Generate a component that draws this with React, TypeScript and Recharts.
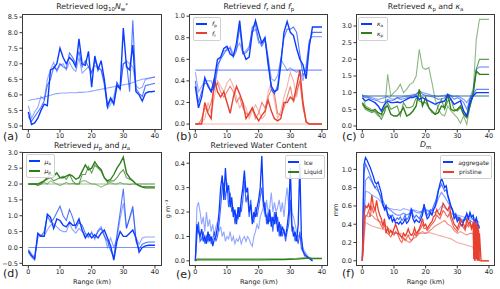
import React from "react";
import { LineChart, Line, XAxis, YAxis } from "recharts";

// colours
const BLUE = "#0a3cff";
const RED = "#e8402e";
const GREEN = "#2f7d1c";
const FONT = "'DejaVu Sans', sans-serif";

// range axis (km)
const km1 = [0, 1, 2, 3, 4, 5, 6, 7, 8, 9, 10, 11, 12, 13, 14, 15, 16, 17, 18, 19, 20,
  21, 22, 23, 24, 25, 26, 27, 28, 29, 30, 31, 32, 33, 34, 35, 36, 37, 38, 39, 40];
const kmHalf = Array.from({ length: 75 }, (_, i) => i / 2); // 0 .. 37 km
const kmEnds = [0, 40];
const xTicks = [0, 10, 20, 30, 40];

// (a) log10 Nw*
const aDark = [5.45, 5.05, 5.1, 5.25, 5.5, 5.7, 5.65, 6.8, 6.85, 7.0,
  7.5, 7.2, 7.0, 7.2, 7.1, 6.9, 7.8, 7.0, 6.95, 7.4,
  6.25, 7.25, 6.8, 7.1, 6.5, 5.65, 5.9, 5.7, 6.3, 6.2,
  8.15, 6.9, 6.8, 7.6, 6.1, 6.0, 5.8, 6.05, 6.1, 6.1, 6.12];
const aMid = [5.3, 5.15, 5.3, 5.45, 5.6, 5.8, 6.3, 6.5, 6.9, 6.8,
  7.0, 6.9, 6.85, 7.35, 7.2, 7.0, 7.4, 6.9, 7.1, 6.9,
  6.7, 7.1, 6.9, 6.8, 6.4, 5.6, 5.85, 5.75, 6.4, 6.2,
  7.0, 7.05, 6.1, 8.4, 6.2, 6.05, 5.95, 6.3, 6.32, 6.35, 6.37];
const aLight = [5.65, 5.25, 5.45, 5.6, 5.95, 5.85, 6.5, 6.8, 7.05, 6.75,
  6.95, 7.0, 6.8, 7.05, 6.85, 6.75, 7.2, 6.7, 6.8, 6.9,
  6.75, 6.95, 6.85, 6.8, 6.3, 5.55, 5.7, 5.95, 6.4, 6.15,
  7.0, 7.1, 7.0, 6.9, 6.3, 6.2, 6.25, 6.5, 6.52, 6.55, 6.57];
const aPrior = [5.82, 5.84, 5.86, 5.88, 5.9, 5.93, 5.96, 5.99, 6.02, 6.04,
  6.05, 6.06, 6.06, 6.07, 6.07, 6.07, 6.08, 6.08, 6.09, 6.1,
  6.12, 6.14, 6.16, 6.18, 6.2, 6.22, 6.24, 6.26, 6.28, 6.3,
  6.32, 6.34, 6.36, 6.4, 6.44, 6.47, 6.5, 6.52, 6.54, 6.56, 6.58];

// (b) fr and fp
const bFp1 = [0.35, 0.15, 0.25, 0.43, 0.35, 0.3, 0.42, 0.6, 0.62, 0.7,
  0.72, 0.65, 0.63, 0.75, 0.96, 0.68, 0.6, 0.62, 0.85, 0.96,
  0.85, 0.75, 0.8, 0.55, 0.35, 0.3, 0.32, 0.55, 0.85, 0.95,
  0.85, 0.82, 0.7, 0.6, 0.55, 0.42, 0.72, 0.9, 0.9, 0.9, 0.9];
const bFp2 = [0.4, 0.2, 0.3, 0.38, 0.37, 0.3, 0.35, 0.55, 0.6, 0.65,
  0.7, 0.7, 0.62, 0.68, 0.9, 0.65, 0.66, 0.7, 0.9, 0.92,
  0.78, 0.72, 0.78, 0.6, 0.32, 0.28, 0.36, 0.6, 0.8, 0.88,
  0.88, 0.9, 0.85, 0.65, 0.45, 0.5, 0.75, 0.85, 0.85, 0.85, 0.85];
const bFp3 = [0.48, 0.3, 0.35, 0.4, 0.4, 0.4, 0.32, 0.5, 0.62, 0.68,
  0.68, 0.72, 0.65, 0.7, 0.75, 0.66, 0.68, 0.72, 0.85, 0.88,
  0.75, 0.76, 0.8, 0.62, 0.42, 0.4, 0.45, 0.6, 0.55, 0.5,
  0.52, 0.5, 0.48, 0.5, 0.4, 0.55, 0.78, 0.81, 0.81, 0.81, 0.81];
const bFpPrior = [0.5, 0.5];
const bFr1 = [0, 0, 0, 0.2, 0.1, 0.05, 0.42, 0.3, 0.25, 0.3,
  0.2, 0.1, 0.25, 0.35, 0.28, 0.2, 0.05, 0.1, 0.15, 0.08,
  0.03, 0.08, 0.12, 0.22, 0.12, 0.05, 0.03, 0.05, 0.2, 0.2,
  0.25, 0.22, 0.35, 0.5, 0.2, 0.02, 0, 0, 0, 0, 0];
const bFr2 = [0, 0, 0.05, 0.15, 0.12, 0.2, 0.35, 0.38, 0.3, 0.25,
  0.3, 0.35, 0.3, 0.2, 0.25, 0.15, 0.1, 0.08, 0.15, 0.05,
  0.1, 0.2, 0.15, 0.25, 0.32, 0.28, 0.1, 0.08, 0.15, 0.25,
  0.35, 0.2, 0.3, 0.4, 0.15, 0.02, 0, 0, 0, 0, 0];
const bFr3 = [0, 0, 0.02, 0.05, 0.2, 0.1, 0.25, 0.4, 0.35, 0.3,
  0.38, 0.42, 0.35, 0.25, 0.15, 0.2, 0.15, 0.05, 0.12, 0.18,
  0.12, 0.05, 0.08, 0.3, 0.38, 0.22, 0.05, 0.12, 0.25, 0.35,
  0.48, 0.4, 0.25, 0.42, 0.2, 0.02, 0, 0, 0, 0, 0];
const bFrPrior = [0, 0];

// (c) kappa_p and kappa_a
const cKa1 = [0.85, 0.75, 0.8, 0.75, 0.7, 0.6, 0.45, 0.65, 0.75, 0.7,
  0.7, 0.72, 0.7, 0.75, 0.8, 0.85, 0.85, 0.9, 0.8, 0.85,
  0.8, 0.75, 0.7, 0.65, 0.7, 0.72, 0.75, 0.95, 0.8, 0.65,
  0.7, 0.75, 0.45, 0.3, 0.7, 0.9, 1.0, 1.0, 1.0, 1.0, 1.0];
const cKa2 = [0.9, 0.85, 0.85, 0.8, 0.78, 0.75, 0.7, 0.72, 0.8, 0.75,
  0.78, 0.85, 0.8, 0.82, 0.85, 0.88, 0.9, 0.95, 1.05, 0.95,
  0.92, 0.9, 0.88, 0.85, 0.8, 0.82, 0.85, 0.95, 0.9, 0.8,
  0.85, 0.8, 0.7, 0.5, 0.8, 0.95, 1.1, 1.1, 1.1, 1.1, 1.1];
const cKa3 = [0.92, 0.9, 0.88, 0.85, 0.82, 0.8, 0.82, 0.85, 0.88, 0.82,
  0.8, 0.85, 0.85, 0.88, 0.9, 0.92, 0.95, 0.95, 1.05, 1.0,
  0.98, 0.95, 0.92, 0.9, 0.88, 0.9, 0.92, 0.95, 0.92, 0.88,
  0.9, 0.85, 0.8, 0.7, 0.85, 1.1, 1.7, 1.77, 1.77, 1.77, 1.77];
const cKp1 = [0.7, 0.55, 0.5, 0.45, 0.5, 0.4, 0.35, 0.55, 0.6, 0.35,
  0.3, 0.3, 0.4, 0.55, 0.3, 0.35, 0.45, 0.6, 1.1, 0.6,
  0.85, 0.55, 0.45, 0.35, 0.4, 0.6, 0.55, 0.95, 0.5, 0.45,
  0.5, 0.6, 0.35, 0.25, 0.6, 0.95, 1.65, 1.55, 1.55, 1.55, 1.55];
const cKp2 = [0.65, 0.5, 0.45, 0.4, 0.45, 0.35, 0.2, 0.4, 0.7, 0.5,
  0.55, 0.6, 0.3, 0.7, 0.55, 0.55, 0.6, 0.85, 0.75, 0.7,
  0.7, 0.55, 0.4, 0.35, 0.6, 0.8, 0.5, 0.75, 0.8, 0.5,
  0.45, 0.55, 0.35, 0.3, 0.8, 1.0, 1.7, 2.0, 2.0, 2.0, 2.0];
const cKp3 = [0.95, 0.6, 0.55, 0.5, 0.4, 0.3, 0.3, 0.4, 1.55, 0.9,
  1.0, 1.1, 1.25, 1.0, 1.1, 1.25, 1.3, 1.5, 2.3, 1.75,
  1.7, 1.75, 1.3, 0.8, 0.5, 0.35, 0.3, 0.6, 0.45, 0.35,
  0.25, 0.08, 0.3, 0.05, 0.6, 1.0, 2.6, 3.2, 3.2, 3.2, 3.2];
const cPrior = [0.9, 0.9];

// (d) mu_p and mu_a
const dMa1 = [-0.1, -0.25, -0.35, 0.45, 0.35, 0.35, 1.05, 0.95, 0.6, 0.9,
  0.85, 0.7, 0.65, 0.8, 0.7, 0.7, 0.9, 0.55, 0.3, 0.45,
  0.3, 0.4, 0.3, 0.45, 0.55, 0.3, 0.05, -0.4, 0.2, 0.5,
  0.35, 0.35, 0.45, 0.55, 0.3, -0.15, 0.0, 0.05, 0.07, 0.07, 0.07];
const dMa2 = [-0.15, -0.3, -0.4, 0.4, 0.35, 0.5, 1.0, 0.8, 0.9, 1.1,
  1.3, 1.0, 0.85, 1.2, 0.95, 0.6, 0.8, 0.7, 0.45, 0.35,
  0.45, 0.3, 0.5, 0.6, 0.35, 0.2, -0.1, -0.3, 0.4, 1.1,
  1.85, 0.6, 0.95, 1.3, 0.2, -0.05, 0.1, 0.15, 0.17, 0.17, 0.17];
const dMa3 = [-0.05, -0.2, -0.3, 0.3, 0.4, 0.35, 0.55, 0.7, 0.75, 0.65,
  0.55, 0.5, 0.5, 0.75, 0.55, 0.45, 0.6, 0.5, 0.4, 0.3,
  0.5, 0.25, 0.55, 0.65, 0.4, 0.0, 0.3, 0.0, 0.3, 0.9,
  1.4, 0.6, 0.9, 1.2, 0.3, 0.1, 0.3, 0.33, 0.33, 0.33, 0.33];
const dMp1 = [2.0, 2.0, 2.0, 2.0, 2.05, 2.1, 2.2, 2.3, 2.25, 2.35,
  2.2, 2.2, 2.25, 2.3, 2.25, 2.15, 2.2, 2.4, 2.6, 2.45,
  2.5, 2.7, 2.55, 2.45, 2.2, 2.1, 2.15, 2.3, 2.5, 2.65,
  2.85, 2.35, 2.2, 2.1, 2.0, 1.95, 1.9, 1.88, 1.88, 1.88, 1.88];
const dMp2 = [2.0, 2.0, 2.0, 1.95, 2.0, 2.1, 2.15, 2.2, 2.1, 2.15,
  2.2, 2.25, 2.15, 2.3, 2.1, 2.0, 2.0, 2.3, 2.3, 2.55,
  2.35, 2.6, 2.5, 2.4, 2.2, 2.05, 2.1, 2.1, 2.2, 2.35,
  2.45, 2.2, 2.15, 2.1, 2.0, 1.95, 1.92, 1.92, 1.92, 1.92, 1.92];
const dMp3 = [2.0, 2.0, 1.98, 2.0, 2.0, 2.05, 2.0, 2.1, 2.05, 2.0,
  1.95, 2.0, 2.05, 2.0, 2.02, 2.0, 2.0, 2.1, 2.1, 2.05,
  2.0, 2.0, 1.95, 1.9, 1.95, 2.0, 2.05, 2.0, 2.0, 2.05,
  2.0, 2.0, 1.98, 2.0, 2.0, 2.0, 2.0, 2.0, 2.0, 2.0, 2.0];
const dMpPrior = [2.0, 2.0];
const dMaPrior = [0.0, 0.0];

// (e) water content, g m-3 (0 .. 37 km every 0.5 km)
const eIce1 = [0, 0.15, 0.12, 0.1, 0.13, 0.08, 0.1, 0.07, 0.12, 0.08,
  0.1, 0.06, 0.09, 0.1, 0.14, 0.2, 0.3, 0.35, 0.25, 0.38,
  0.28, 0.31, 0.22, 0.26, 0.18, 0.21, 0.15, 0.22, 0.18, 0.25,
  0.3, 0.37, 0.28, 0.3, 0.2, 0.23, 0.15, 0.2, 0.18, 0.22,
  0.25, 0.3, 0.43, 0.25, 0.2, 0.18, 0.15, 0.21, 0.14, 0.18,
  0.15, 0.2, 0.12, 0.16, 0.1, 0.14, 0.12, 0.1, 0.14, 0.2,
  0.38, 0.15, 0.1, 0.12, 0.08, 0.15, 0.4, 0.1, 0.04, 0.03,
  0.02, 0.015, 0.01, 0.005, 0.0];
const eIce2 = [0, 0.1, 0.16, 0.08, 0.09, 0.12, 0.07, 0.1, 0.08, 0.11,
  0.07, 0.09, 0.12, 0.08, 0.1, 0.15, 0.22, 0.3, 0.32, 0.25,
  0.32, 0.22, 0.28, 0.2, 0.22, 0.15, 0.19, 0.17, 0.22, 0.2,
  0.25, 0.33, 0.24, 0.27, 0.18, 0.25, 0.17, 0.16, 0.22, 0.18,
  0.22, 0.26, 0.3, 0.22, 0.24, 0.15, 0.2, 0.16, 0.18, 0.12,
  0.2, 0.15, 0.18, 0.1, 0.15, 0.1, 0.13, 0.08, 0.12, 0.15,
  0.25, 0.12, 0.14, 0.08, 0.1, 0.07, 0.12, 0.05, 0.04, 0.02,
  0.02, 0.015, 0.01, 0.005, 0];
const eIce3 = [0, 0.22, 0.24, 0.2, 0.15, 0.18, 0.12, 0.2, 0.14, 0.17,
  0.12, 0.15, 0.1, 0.14, 0.16, 0.12, 0.14, 0.1, 0.12, 0.08,
  0.1, 0.09, 0.12, 0.08, 0.1, 0.07, 0.09, 0.08, 0.1, 0.07,
  0.09, 0.1, 0.08, 0.1, 0.09, 0.07, 0.06, 0.1, 0.12, 0.15,
  0.13, 0.18, 0.2, 0.22, 0.18, 0.25, 0.2, 0.22, 0.28, 0.2,
  0.24, 0.2, 0.22, 0.25, 0.2, 0.24, 0.18, 0.25, 0.3, 0.22,
  0.35, 0.2, 0.18, 0.15, 0.12, 0.1, 0.1, 0.08, 0.05, 0.04,
  0.03, 0.02, 0.015, 0.01, 0.005];
const eLiqKm = [0, 0.5, 5, 10, 15, 20, 25, 28, 30, 32, 34, 35, 36, 37, 38, 40];
const eLiq1 = [0, 0.004, 0.004, 0.004, 0.004, 0.004, 0.005, 0.005, 0.006, 0.007, 0.009, 0.01, 0.01, 0.009, 0.009, 0.009];
const eLiq2 = [0, 0.008, 0.008, 0.008, 0.008, 0.008, 0.008, 0.009, 0.01, 0.011, 0.013, 0.014, 0.013, 0.012, 0.012, 0.012];

// (f) Dm, mm
const fAg1 = [0, 1.05, 1.13, 1.1, 1.06, 1.02, 0.97, 0.92, 0.86, 0.84,
  0.86, 0.8, 0.74, 0.62, 0.56, 0.6, 0.5, 0.46, 0.49, 0.43,
  0.46, 0.41, 0.42, 0.4, 0.43, 0.4, 0.42, 0.46, 0.41, 0.43,
  0.47, 0.56, 0.46, 0.42, 0.45, 0.43, 0.42, 0.46, 0.5, 0.62,
  0.52, 0.46, 0.48, 0.53, 0.5, 0.56, 0.6, 0.66, 0.76, 0.84,
  0.9, 0.86, 0.8, 0.82, 0.72, 0.66, 0.6, 0.56, 0.46, 0.49,
  0.43, 0.46, 0.4, 0.38, 0.43, 0.46, 0.52, 0.46, 0.53, 0.48,
  0.5, 0.42, 0.47, 0.4, 0.36];
const fAg2 = [0, 0.95, 1.06, 1.02, 0.98, 0.93, 0.88, 0.84, 0.8, 0.82,
  0.78, 0.72, 0.66, 0.6, 0.58, 0.55, 0.52, 0.5, 0.48, 0.5,
  0.46, 0.44, 0.47, 0.45, 0.48, 0.44, 0.46, 0.5, 0.45, 0.47,
  0.52, 0.58, 0.5, 0.47, 0.5, 0.48, 0.46, 0.5, 0.55, 0.6,
  0.56, 0.5, 0.52, 0.56, 0.55, 0.6, 0.64, 0.7, 0.78, 0.8,
  0.84, 0.8, 0.76, 0.78, 0.7, 0.64, 0.58, 0.55, 0.5, 0.52,
  0.46, 0.48, 0.44, 0.42, 0.45, 0.48, 0.5, 0.46, 0.5, 0.47,
  0.46, 0.4, 0.44, 0.38, 0.35];
const fAg3 = [0, 0.76, 0.75, 0.72, 0.7, 0.68, 0.64, 0.6, 0.58, 0.57,
  0.56, 0.56, 0.55, 0.57, 0.56, 0.55, 0.56, 0.55, 0.54, 0.53,
  0.55, 0.54, 0.52, 0.53, 0.55, 0.6, 0.58, 0.55, 0.52, 0.5,
  0.5, 0.49, 0.48, 0.47, 0.46, 0.45, 0.44, 0.42];
const fAg4 = [0, 0.88, 0.92, 0.86, 0.8, 0.76, 0.7, 0.62, 0.58, 0.55,
  0.52, 0.5, 0.5, 0.52, 0.5, 0.52, 0.55, 0.53, 0.52, 0.55,
  0.56, 0.55, 0.54, 0.58, 0.68, 0.75, 0.7, 0.64, 0.58, 0.52,
  0.48, 0.46, 0.44, 0.46, 0.44, 0.42, 0.4, 0.38];
const fPr1 = [0, 0.5, 0.6, 0.58, 0.62, 0.55, 0.72, 0.6, 0.55, 0.66,
  0.56, 0.5, 0.46, 0.38, 0.46, 0.3, 0.36, 0.3, 0.33, 0.3,
  0.35, 0.4, 0.35, 0.3, 0.28, 0.25, 0.3, 0.27, 0.3, 0.35,
  0.3, 0.28, 0.3, 0.36, 0.3, 0.32, 0.35, 0.4, 0.46, 0.38,
  0.4, 0.35, 0.38, 0.41, 0.43, 0.48, 0.5, 0.56, 0.52, 0.5,
  0.56, 0.63, 0.6, 0.57, 0.55, 0.6, 0.5, 0.45, 0.4, 0.38,
  0.35, 0.4, 0.46, 0.42, 0.4, 0.35, 0.46, 0.4, 0.43, 0.36,
  0.42];
const fPr2 = [0, 0.4, 0.48, 0.5, 0.55, 0.48, 0.6, 0.52, 0.58, 0.5,
  0.45, 0.42, 0.38, 0.35, 0.4, 0.32, 0.3, 0.28, 0.26, 0.3,
  0.28, 0.32, 0.3, 0.26, 0.22, 0.2, 0.25, 0.22, 0.25, 0.28,
  0.24, 0.22, 0.25, 0.3, 0.27, 0.3, 0.33, 0.36, 0.4, 0.35,
  0.36, 0.33, 0.35, 0.38, 0.4, 0.42, 0.45, 0.5, 0.48, 0.46,
  0.5, 0.55, 0.53, 0.5, 0.48, 0.52, 0.45, 0.4, 0.36, 0.34,
  0.32, 0.35, 0.4, 0.38, 0.36, 0.33, 0.4, 0.37, 0.4, 0.34,
  0.38];
const fTailKm = [35.2, 35.4, 35.6, 35.8, 36, 36.2, 36.4, 36.6, 36.8, 37, 37.5, 40];
const fPr1Tail = [0.02, 0.44, 0.0, 0.4, 0.02, 0.42, 0.0, 0.38, 0.0, 0.3, 0, 0];
const fPr2Tail = [0.4, 0.0, 0.42, 0.02, 0.4, 0.0, 0.36, 0.02, 0.33, 0.0, 0, 0];
const fPr3 = [0, 0.42, 0.4, 0.38, 0.37, 0.36, 0.35, 0.34, 0.33, 0.32,
  0.31, 0.3, 0.3, 0.29, 0.28, 0.28, 0.28, 0.29, 0.3, 0.3,
  0.3, 0.31, 0.3, 0.29, 0.28, 0.27, 0.26, 0.25, 0.24, 0.22,
  0.2, 0.19, 0.18, 0.17, 0.16, 0.15, 0];
const fPr4 = [0, 0.5, 0.48, 0.5, 0.46, 0.44, 0.42, 0.4, 0.36, 0.33,
  0.3, 0.3, 0.27, 0.25, 0.22, 0.2, 0.24, 0.26, 0.3, 0.32,
  0.3, 0.32, 0.35, 0.38, 0.4, 0.42, 0.44, 0.4, 0.38, 0.33,
  0.3, 0.32, 0.3, 0.28, 0.3, 0.3, 0];
const kmLight = [...km1.slice(0, 36), 35.5];

const pts = (xs: number[], ys: number[]) => ys.map((v, i) => ({ km: xs[i], v }));

type Ser = { data: { km: number; v: number }[]; color: string; op: number; sw: number };
const s = (xs: number[], ys: number[], color: string, op: number, sw = 1.1): Ser => ({
  data: pts(xs, ys), color, op, sw,
});

const tickStyle = { fontSize: 6.5, fill: "#262626", fontFamily: FONT };
const fmt = (t: number) => (t < 0 ? "\u2212" + Math.abs(t).toFixed(1) : t.toFixed(1));

function Panel(props: {
  x: number; y: number; w: number; h: number; yw: number;
  yDomain: [number, number]; yTicks: number[]; lines: Ser[];
}) {
  const { x, y, w, h, yw, yDomain, yTicks, lines } = props;
  const xh = 12;
  const pad = 6; // room above the frame for the top tick label
  return (
    <div style={{ position: "absolute", left: x - yw, top: y - pad }}>
      <LineChart width={w + yw} height={h + xh + pad} margin={{ top: pad, right: 0, bottom: 0, left: 0 }}>
        <XAxis type="number" dataKey="km" domain={[-2, 42]} ticks={xTicks} interval={0}
          allowDataOverflow axisLine={false} tickSize={2.5} tickMargin={1} height={xh}
          tick={tickStyle} tickLine={{ stroke: "#333" }} />
        <YAxis type="number" domain={yDomain} ticks={yTicks} interval={0} allowDataOverflow
          axisLine={false} width={yw} tickSize={2.5} tickMargin={1.5} tick={tickStyle}
          tickFormatter={fmt} tickLine={{ stroke: "#333" }} />
        {lines.map((l, i) => (
          <Line key={i} data={l.data} dataKey="v" type="linear" stroke={l.color}
            strokeOpacity={l.op} strokeWidth={l.sw} dot={false} isAnimationActive={false} />
        ))}
      </LineChart>
      <div style={{
        position: "absolute", left: yw, top: pad, width: w, height: h,
        border: "0.8px solid #3a3a3a", boxSizing: "border-box", pointerEvents: "none",
      }} />
    </div>
  );
}

const Sub = ({ c }: { c: string }) => (
  <sub style={{ fontSize: "0.7em", verticalAlign: "-0.3em", lineHeight: 0 }}>{c}</sub>
);

function Legend(props: { x: number; y: number; w: number; items: { c: string; label: React.ReactNode }[] }) {
  return (
    <div style={{
      position: "absolute", left: props.x, top: props.y, width: props.w, boxSizing: "border-box",
      padding: "1.5px 2px", border: "0.6px solid #d0d0d0", borderRadius: 2,
      background: "rgba(255,255,255,0.85)", fontSize: 6, lineHeight: "9.5px", color: "#222",
    }}>
      {props.items.map((it, i) => (
        <div key={i} style={{ display: "flex", alignItems: "center", whiteSpace: "nowrap" }}>
          <span style={{ display: "inline-block", width: 11, height: 1.6, background: it.c, marginRight: 5 }} />
          <span>{it.label}</span>
        </div>
      ))}
    </div>
  );
}

const Title = ({ x, w, y, children }: { x: number; w: number; y: number; children: React.ReactNode }) => (
  <div style={{
    position: "absolute", left: x, top: y, width: w, textAlign: "center",
    fontSize: 7.8, lineHeight: "10px", color: "#222", whiteSpace: "nowrap",
  }}>{children}</div>
);

const Tag = ({ x, y, t }: { x: number; y: number; t: string }) => (
  <div style={{ position: "absolute", left: x, top: y, fontSize: 11, lineHeight: "13px", color: "#222" }}>{t}</div>
);

const XLab = ({ x, w }: { x: number; w: number }) => (
  <div style={{
    position: "absolute", left: x, top: 278, width: w, textAlign: "center",
    fontSize: 6.5, lineHeight: "8px", color: "#222",
  }}>Range (km)</div>
);

const YLab = ({ x, y, t }: { x: number; y: number; t: string }) => (
  <div style={{
    position: "absolute", left: x - 20, top: y - 4, width: 40, textAlign: "center",
    fontSize: 6.5, lineHeight: "8px", color: "#222", transform: "rotate(-90deg)",
  }}>{t}</div>
);

export default function App() {
  const L1 = 22.4, L2 = 189.2, L3 = 356;
  const W = 139.3;
  const T1 = 14, H1 = 116, T2 = 152, H2 = 114;

  const panelA = [
    s(km1, aPrior, BLUE, 0.45),
    s(km1, aLight, BLUE, 0.45),
    s(km1, aMid, BLUE, 0.7),
    s(km1, aDark, BLUE, 1, 1.4),
  ];
  const panelB = [
    s(kmEnds, bFpPrior, BLUE, 0.55),
    s(kmEnds, bFrPrior, RED, 0.4),
    s(km1, bFr3, RED, 0.4),
    s(km1, bFr2, RED, 0.65),
    s(km1, bFr1, RED, 1, 1.4),
    s(km1, bFp3, BLUE, 0.45),
    s(km1, bFp2, BLUE, 0.7),
    s(km1, bFp1, BLUE, 1, 1.4),
  ];
  const panelC = [
    s(km1, cKp3, GREEN, 0.55),
    s(km1, cKp2, GREEN, 0.75),
    s(km1, cKa3, BLUE, 0.45, 1.3),
    s(km1, cKa2, BLUE, 0.6),
    s(kmEnds, cPrior, BLUE, 0.45),
    s(kmEnds, cPrior, GREEN, 0.55),
    s(km1, cKp1, GREEN, 1, 1.4),
    s(km1, cKa1, BLUE, 1, 1.4),
  ];
  const panelD = [
    s(kmEnds, dMaPrior, BLUE, 0.55),
    s(kmEnds, dMpPrior, GREEN, 0.5),
    s(km1, dMp3, GREEN, 0.5),
    s(km1, dMp2, GREEN, 0.75),
    s(km1, dMp1, GREEN, 1, 1.4),
    s(km1, dMa3, BLUE, 0.45),
    s(km1, dMa2, BLUE, 0.7),
    s(km1, dMa1, BLUE, 1, 1.4),
  ];
  const panelE = [
    s(kmHalf, eIce3, BLUE, 0.45),
    s(kmHalf, eIce2, BLUE, 0.8),
    s(kmHalf, eIce1, BLUE, 1, 1.3),
    s(eLiqKm, eLiq2, GREEN, 0.6),
    s(eLiqKm, eLiq1, GREEN, 1, 1.3),
  ];
  const redKm = [...kmHalf.slice(0, 71), ...fTailKm];
  const panelF = [
    s(km1, fAg3, BLUE, 0.4),
    s(km1, fAg4, BLUE, 0.55),
    s(kmHalf, fAg2, BLUE, 0.75),
    s(kmHalf, fAg1, BLUE, 1, 1.3),
    s(kmLight, fPr3, RED, 0.45),
    s(kmLight, fPr4, RED, 0.6),
    s(redKm, [...fPr2, ...fPr2Tail], RED, 0.8),
    s(redKm, [...fPr1, ...fPr1Tail], RED, 1, 1.3),
  ];

  return (
    <div style={{
      position: "fixed", left: 0, top: 0, width: 500, height: 289, background: "#fff",
      fontFamily: FONT, overflow: "hidden",
    }}>
      <Panel x={L1} y={T1} w={W} h={H1} yw={22} yDomain={[4.87, 8.6]}
        yTicks={[5.0, 5.5, 6.0, 6.5, 7.0, 7.5, 8.0, 8.5]} lines={panelA} />
      <Panel x={L2} y={T1} w={W} h={H1} yw={24} yDomain={[-0.055, 1.02]}
        yTicks={[0, 0.2, 0.4, 0.6, 0.8, 1.0]} lines={panelB} />
      <Panel x={L3} y={T1} w={W} h={H1} yw={24} yDomain={[-0.12, 3.36]}
        yTicks={[0, 0.5, 1.0, 1.5, 2.0, 2.5, 3.0]} lines={panelC} />
      <Panel x={L1} y={T2} w={W} h={H2} yw={22} yDomain={[-0.585, 3.01]}
        yTicks={[-0.5, 0, 0.5, 1.0, 1.5, 2.0, 2.5, 3.0]} lines={panelD} />
      <Panel x={L2} y={T2} w={W} h={H2} yw={24} yDomain={[-0.021, 0.446]}
        yTicks={[0, 0.1, 0.2, 0.3, 0.4]} lines={panelE} />
      <Panel x={L3} y={T2} w={W} h={H2} yw={24} yDomain={[-0.057, 1.19]}
        yTicks={[0, 0.2, 0.4, 0.6, 0.8, 1.0]} lines={panelF} />

      <Title x={L1} w={W} y={2}>
        Retrieved log<Sub c="10" /><i>N</i><Sub c="w" />
        <sup style={{ fontSize: "0.7em", lineHeight: 0, verticalAlign: "0.45em" }}>*</sup>
      </Title>
      <Title x={L2} w={W} y={2}>Retrieved <i>f</i><Sub c="r" /> and <i>f</i><Sub c="p" /></Title>
      <Title x={L3} w={W} y={2}>Retrieved <i>κ</i><Sub c="p" /> and <i>κ</i><Sub c="a" /></Title>
      <Title x={L1} w={W} y={141}>Retrieved <i>μ</i><Sub c="p" /> and <i>μ</i><Sub c="a" /></Title>
      <Title x={L2} w={W} y={141}>Retrieved Water Content</Title>
      <Title x={L3} w={W} y={140}><i>D</i><Sub c="m" /></Title>

      <Legend x={193} y={16.5} w={28} items={[
        { c: BLUE, label: <span><i>f</i><Sub c="p" /></span> },
        { c: RED, label: <span><i>f</i><Sub c="r" /></span> },
      ]} />
      <Legend x={358} y={16.5} w={30} items={[
        { c: BLUE, label: <span><i>κ</i><Sub c="a" /></span> },
        { c: GREEN, label: <span><i>κ</i><Sub c="p" /></span> },
      ]} />
      <Legend x={25.5} y={154} w={29} items={[
        { c: BLUE, label: <span><i>μ</i><Sub c="a" /></span> },
        { c: GREEN, label: <span><i>μ</i><Sub c="p" /></span> },
      ]} />
      <Legend x={285} y={155} w={40} items={[
        { c: BLUE, label: "Ice" },
        { c: GREEN, label: "Liquid" },
      ]} />
      <Legend x={440} y={155} w={52} items={[
        { c: BLUE, label: "aggregate" },
        { c: RED, label: "pristine" },
      ]} />

      <Tag x={3} y={130} t="(a)" />
      <Tag x={176} y={130} t="(b)" />
      <Tag x={342} y={130} t="(c)" />
      <Tag x={3} y={267} t="(d)" />
      <Tag x={176} y={268} t="(e)" />
      <Tag x={342} y={267} t="(f)" />

      <XLab x={L1} w={W} />
      <XLab x={L2} w={W} />
      <XLab x={L3} w={W} />
      <YLab x={168} y={209} t="g m⁻³" />
      <YLab x={336} y={210} t="mm" />
    </div>
  );
}
